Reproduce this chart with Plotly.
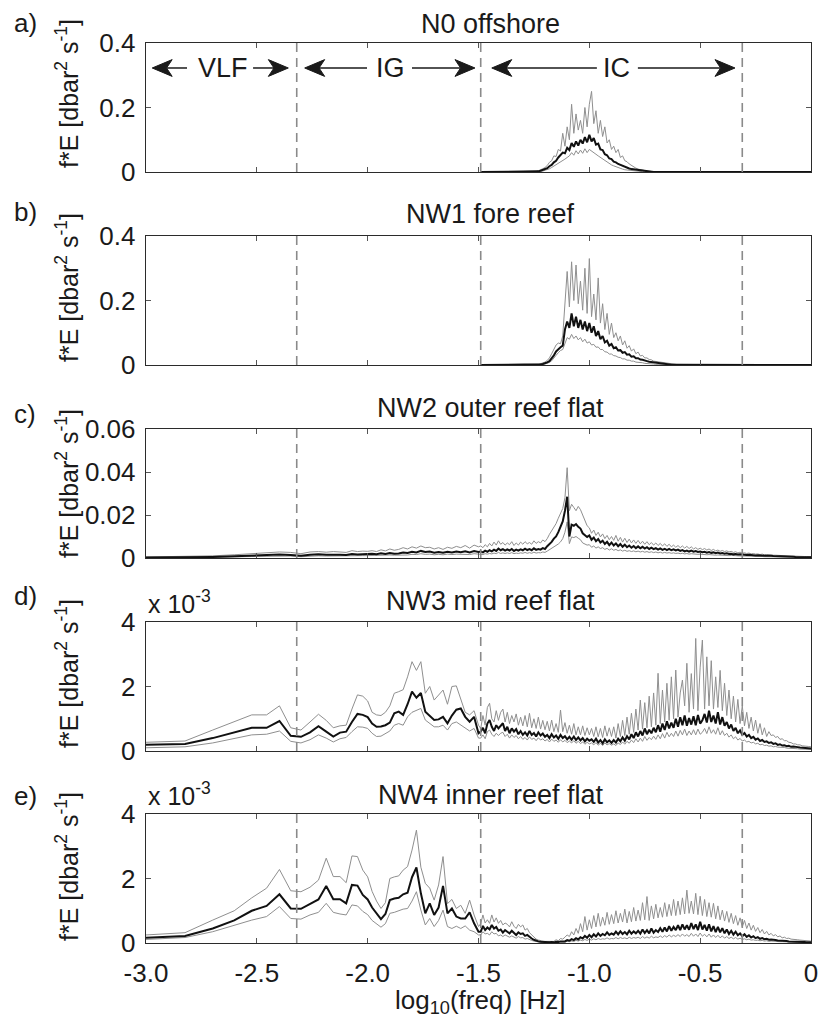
import plotly.graph_objects as go

# ---------------------------------------------------------------- data
# log10(freq) bins
X_LOW = [-3.0, -2.824, -2.699, -2.602, -2.523, -2.456, -2.398, -2.347, -2.301, -2.26,
         -2.222, -2.187, -2.155, -2.125, -2.097, -2.071, -2.046, -2.022, -2.0]
X_MID = [-1.98, -1.96, -1.94, -1.92, -1.90, -1.88, -1.86, -1.84, -1.82, -1.80,
         -1.78, -1.76, -1.74, -1.72, -1.70, -1.68, -1.66, -1.64, -1.62, -1.60,
         -1.58, -1.56, -1.54, -1.52, -1.50]
X_HIGH = [
    -1.49, -1.48, -1.47, -1.46, -1.45, -1.44, -1.43, -1.42, -1.41, -1.40,
    -1.39, -1.38, -1.37, -1.36, -1.35, -1.34, -1.33, -1.32, -1.31, -1.30,
    -1.29, -1.28, -1.27, -1.26, -1.25, -1.24, -1.23, -1.22, -1.21, -1.20,
    -1.19, -1.18, -1.17, -1.16, -1.15, -1.14, -1.13, -1.12, -1.11, -1.10,
    -1.09, -1.08, -1.07, -1.06, -1.05, -1.04, -1.03, -1.02, -1.01, -1.00,
    -0.99, -0.98, -0.97, -0.96, -0.95, -0.94, -0.93, -0.92, -0.91, -0.90,
    -0.89, -0.88, -0.87, -0.86, -0.85, -0.84, -0.83, -0.82, -0.81, -0.80,
    -0.79, -0.78, -0.77, -0.76, -0.75, -0.74, -0.73, -0.72, -0.71, -0.70,
    -0.69, -0.68, -0.67, -0.66, -0.65, -0.64, -0.63, -0.62, -0.61, -0.60,
    -0.59, -0.58, -0.57, -0.56, -0.55, -0.54, -0.53, -0.52, -0.51, -0.50,
    -0.49, -0.48, -0.47, -0.46, -0.45, -0.44, -0.43, -0.42, -0.41, -0.40,
    -0.39, -0.38, -0.37, -0.36, -0.35, -0.34, -0.33, -0.32, -0.31, -0.30,
    -0.29, -0.28, -0.27, -0.26, -0.25, -0.24, -0.23, -0.22, -0.21, -0.20,
    -0.19, -0.18, -0.17, -0.16, -0.15, -0.14, -0.13, -0.12, -0.11, -0.10,
    -0.09, -0.08, -0.07, -0.06, -0.05, -0.04, -0.03, -0.02, -0.01, 0.00]

# ---- a) N0 offshore  (dbar^2 s^-1) on X_HIGH
A_MEAN = [
    0, 0, 0, 0, 0, 0, 0, 0, 0, 0,
    0, 0, 0, 0, 0, 0, 0, 0, 0, 0,
    0, 0, 0, 0, 0, 0.001, 0.002, 0.004, 0.006, 0.008,
    0.012, 0.018, 0.022, 0.030, 0.035, 0.045, 0.052, 0.060, 0.058, 0.075,
    0.068, 0.090, 0.078, 0.095, 0.082, 0.100, 0.088, 0.108, 0.092, 0.115,
    0.095, 0.105, 0.085, 0.088, 0.070, 0.068, 0.055, 0.052, 0.042, 0.040,
    0.032, 0.030, 0.025, 0.022, 0.018, 0.016, 0.013, 0.011, 0.009, 0.008,
    0.006, 0.005, 0.004, 0.003, 0.002, 0.002, 0.001, 0.001, 0, 0,
    0, 0, 0, 0, 0, 0, 0, 0, 0, 0,
    0, 0, 0, 0, 0, 0, 0, 0, 0, 0,
    0, 0, 0, 0, 0, 0, 0, 0, 0, 0,
    0, 0, 0, 0, 0, 0, 0, 0, 0, 0,
    0, 0, 0, 0, 0, 0, 0, 0, 0, 0,
    0, 0, 0, 0, 0, 0, 0, 0, 0, 0,
    0, 0, 0, 0, 0, 0, 0, 0, 0, 0]
A_UP = [
    0, 0, 0, 0, 0, 0, 0, 0, 0, 0,
    0, 0, 0, 0, 0, 0, 0, 0, 0, 0,
    0, 0, 0, 0, 0, 0.002, 0.004, 0.006, 0.010, 0.014,
    0.020, 0.030, 0.035, 0.050, 0.048, 0.070, 0.065, 0.120, 0.080, 0.140,
    0.100, 0.210, 0.120, 0.180, 0.130, 0.160, 0.120, 0.200, 0.140, 0.210,
    0.250, 0.150, 0.190, 0.120, 0.160, 0.110, 0.140, 0.090, 0.100, 0.070,
    0.080, 0.060, 0.070, 0.045, 0.050, 0.035, 0.032, 0.025, 0.020, 0.016,
    0.012, 0.009, 0.007, 0.005, 0.004, 0.003, 0.002, 0.001, 0.001, 0,
    0, 0, 0, 0, 0, 0, 0, 0, 0, 0,
    0, 0, 0, 0, 0, 0, 0, 0, 0, 0,
    0, 0, 0, 0, 0, 0, 0, 0, 0, 0,
    0, 0, 0, 0, 0, 0, 0, 0, 0, 0,
    0, 0, 0, 0, 0, 0, 0, 0, 0, 0,
    0, 0, 0, 0, 0, 0, 0, 0, 0, 0,
    0, 0, 0, 0, 0, 0, 0, 0, 0, 0]
A_LO = [
    0, 0, 0, 0, 0, 0, 0, 0, 0, 0,
    0, 0, 0, 0, 0, 0, 0, 0, 0, 0,
    0, 0, 0, 0, 0, 0, 0.001, 0.002, 0.003, 0.005,
    0.007, 0.010, 0.014, 0.018, 0.022, 0.026, 0.032, 0.036, 0.040, 0.045,
    0.050, 0.060, 0.052, 0.066, 0.056, 0.068, 0.058, 0.072, 0.060, 0.070,
    0.064, 0.060, 0.055, 0.050, 0.045, 0.040, 0.035, 0.030, 0.026, 0.022,
    0.019, 0.016, 0.013, 0.011, 0.009, 0.007, 0.006, 0.005, 0.004, 0.003,
    0.003, 0.002, 0.002, 0.001, 0.001, 0.001, 0, 0, 0, 0,
    0, 0, 0, 0, 0, 0, 0, 0, 0, 0,
    0, 0, 0, 0, 0, 0, 0, 0, 0, 0,
    0, 0, 0, 0, 0, 0, 0, 0, 0, 0,
    0, 0, 0, 0, 0, 0, 0, 0, 0, 0,
    0, 0, 0, 0, 0, 0, 0, 0, 0, 0,
    0, 0, 0, 0, 0, 0, 0, 0, 0, 0,
    0, 0, 0, 0, 0, 0, 0, 0, 0, 0]

# ---- b) NW1 fore reef (dbar^2 s^-1) on X_HIGH
B_MEAN = [
    0, 0, 0, 0, 0, 0, 0, 0, 0, 0,
    0, 0, 0, 0, 0, 0, 0, 0, 0, 0,
    0, 0, 0, 0, 0, 0, 0.001, 0.002, 0.003, 0.005,
    0.008, 0.012, 0.020, 0.030, 0.042, 0.050, 0.055, 0.060, 0.110, 0.135,
    0.115, 0.160, 0.120, 0.150, 0.115, 0.140, 0.110, 0.135, 0.105, 0.130,
    0.100, 0.120, 0.090, 0.105, 0.080, 0.090, 0.070, 0.075, 0.060, 0.065,
    0.052, 0.055, 0.045, 0.046, 0.038, 0.040, 0.032, 0.033, 0.026, 0.027,
    0.021, 0.021, 0.017, 0.016, 0.013, 0.012, 0.010, 0.009, 0.007, 0.006,
    0.005, 0.004, 0.003, 0.003, 0.002, 0.002, 0.001, 0.001, 0.001, 0,
    0, 0, 0, 0, 0, 0, 0, 0, 0, 0,
    0, 0, 0, 0, 0, 0, 0, 0, 0, 0,
    0, 0, 0, 0, 0, 0, 0, 0, 0, 0,
    0, 0, 0, 0, 0, 0, 0, 0, 0, 0,
    0, 0, 0, 0, 0, 0, 0, 0, 0, 0,
    0, 0, 0, 0, 0, 0, 0, 0, 0, 0]
B_UP = [
    0, 0, 0, 0, 0, 0, 0, 0, 0, 0,
    0, 0, 0, 0, 0, 0, 0, 0, 0, 0,
    0, 0, 0, 0, 0, 0, 0.002, 0.004, 0.006, 0.009,
    0.014, 0.022, 0.035, 0.048, 0.062, 0.068, 0.066, 0.090, 0.200, 0.290,
    0.180, 0.320, 0.200, 0.310, 0.190, 0.260, 0.170, 0.300, 0.160, 0.330,
    0.150, 0.220, 0.140, 0.270, 0.130, 0.190, 0.110, 0.160, 0.095, 0.130,
    0.085, 0.100, 0.075, 0.090, 0.062, 0.075, 0.052, 0.060, 0.043, 0.050,
    0.035, 0.040, 0.028, 0.030, 0.022, 0.022, 0.017, 0.016, 0.012, 0.011,
    0.009, 0.007, 0.006, 0.005, 0.004, 0.003, 0.002, 0.002, 0.001, 0.001,
    0, 0, 0, 0, 0, 0, 0, 0, 0, 0,
    0, 0, 0, 0, 0, 0, 0, 0, 0, 0,
    0, 0, 0, 0, 0, 0, 0, 0, 0, 0,
    0, 0, 0, 0, 0, 0, 0, 0, 0, 0,
    0, 0, 0, 0, 0, 0, 0, 0, 0, 0,
    0, 0, 0, 0, 0, 0, 0, 0, 0, 0]
B_LO = [
    0, 0, 0, 0, 0, 0, 0, 0, 0, 0,
    0, 0, 0, 0, 0, 0, 0, 0, 0, 0,
    0, 0, 0, 0, 0, 0, 0, 0.001, 0.002, 0.003,
    0.005, 0.008, 0.013, 0.020, 0.030, 0.038, 0.045, 0.048, 0.070, 0.085,
    0.080, 0.095, 0.082, 0.090, 0.078, 0.085, 0.072, 0.080, 0.068, 0.072,
    0.062, 0.064, 0.055, 0.056, 0.048, 0.048, 0.041, 0.040, 0.034, 0.034,
    0.029, 0.028, 0.024, 0.023, 0.019, 0.019, 0.015, 0.015, 0.012, 0.012,
    0.009, 0.009, 0.007, 0.007, 0.005, 0.005, 0.004, 0.003, 0.003, 0.002,
    0.002, 0.001, 0.001, 0.001, 0.001, 0, 0, 0, 0, 0,
    0, 0, 0, 0, 0, 0, 0, 0, 0, 0,
    0, 0, 0, 0, 0, 0, 0, 0, 0, 0,
    0, 0, 0, 0, 0, 0, 0, 0, 0, 0,
    0, 0, 0, 0, 0, 0, 0, 0, 0, 0,
    0, 0, 0, 0, 0, 0, 0, 0, 0, 0,
    0, 0, 0, 0, 0, 0, 0, 0, 0, 0]

# ---- c) NW2 outer reef flat (units of 1e-3 dbar^2 s^-1)
C_MEAN_LOW = [0.2, 0.3, 0.5, 0.8, 1.2, 1.5, 1.6, 1.4, 1.0, 1.5, 1.7, 1.5, 1.6, 1.5, 1.4, 1.9, 1.6, 1.8, 1.7]
C_MEAN_MID = [2.0, 1.8, 2.2, 1.9, 2.3, 2.0, 2.1, 2.6, 2.3, 2.9, 2.6, 3.3, 2.8, 3.0, 2.5,
              2.8, 2.4, 2.9, 2.6, 3.0, 2.7, 3.1, 2.6, 3.2, 2.8]
C_MEAN_HIGH = [
    3.0, 2.6, 3.4, 2.9, 3.6, 3.1, 3.9, 3.3, 4.4, 3.6,
    4.1, 3.4, 4.0, 3.5, 4.2, 3.3, 3.9, 3.4, 4.0, 3.6,
    4.3, 3.7, 4.1, 3.6, 4.5, 3.8, 4.2, 3.9, 4.6, 4.2,
    5.5, 6.5, 7.5, 9.0, 10.0, 12.0, 14.5, 17.0, 22.0, 28.5,
    10.0, 15.5, 15.0, 15.8, 14.5, 13.7, 11.5, 10.5, 9.8, 10.5,
    8.5, 9.5, 7.8, 8.8, 7.2, 8.0, 6.5, 7.5, 6.0, 7.2,
    5.8, 6.8, 5.5, 6.5, 5.2, 6.2, 5.0, 5.8, 4.8, 5.6,
    4.6, 5.4, 4.5, 5.2, 4.4, 5.0, 4.2, 4.8, 4.1, 4.6,
    3.9, 4.5, 3.8, 4.3, 3.7, 4.2, 3.6, 4.0, 3.5, 3.9,
    3.3, 3.7, 3.1, 3.5, 3.0, 3.4, 2.9, 3.2, 2.8, 3.0,
    2.7, 2.9, 2.5, 2.8, 2.4, 2.6, 2.2, 2.5, 2.1, 2.3,
    2.0, 2.2, 1.9, 2.0, 1.7, 1.9, 1.6, 1.7, 1.5, 1.6,
    1.4, 1.5, 1.3, 1.4, 1.2, 1.3, 1.1, 1.2, 1.0, 1.1,
    0.9, 1.0, 0.9, 0.9, 0.8, 0.8, 0.7, 0.7, 0.7, 0.6,
    0.6, 0.6, 0.5, 0.5, 0.5, 0.5, 0.4, 0.4, 0.4, 0.4]
C_UP_LOW = [0.5, 0.7, 1.0, 1.5, 2.0, 2.4, 2.8, 2.6, 2.0, 2.8, 3.0, 2.7, 3.0, 2.8, 2.6, 3.4, 3.0, 3.2, 3.1]
C_UP_MID = [3.4, 3.0, 3.8, 3.3, 4.2, 3.6, 4.0, 4.8, 4.2, 5.2, 4.6, 5.6, 4.8, 5.0, 4.2,
            4.8, 4.0, 5.0, 4.5, 5.4, 4.8, 5.8, 4.6, 6.0, 5.2]
C_UP_HIGH = [
    5.6, 4.8, 6.2, 5.2, 6.8, 5.6, 7.4, 6.0, 8.0, 6.4,
    7.2, 6.0, 7.0, 6.2, 7.6, 5.8, 7.0, 6.0, 7.4, 6.4,
    7.6, 6.6, 7.2, 6.4, 8.0, 6.8, 7.6, 7.0, 8.4, 7.6,
    9.0, 11.0, 12.5, 14.5, 16.0, 18.5, 21.0, 23.0, 28.0, 42.0,
    22.0, 25.0, 23.5, 22.0, 24.0, 22.5, 20.0, 17.0, 15.0, 14.0,
    11.5, 13.0, 10.5, 12.0, 9.8, 11.2, 9.0, 10.5, 8.5, 10.0,
    8.2, 10.5, 7.8, 9.6, 7.4, 9.2, 7.2, 8.8, 7.0, 8.4,
    6.8, 8.2, 6.6, 7.8, 6.4, 7.6, 6.2, 7.2, 6.0, 7.0,
    5.8, 6.8, 5.6, 6.6, 5.4, 6.4, 5.2, 6.0, 5.0, 5.8,
    4.8, 5.6, 4.6, 5.4, 4.4, 5.2, 4.2, 4.8, 4.0, 4.6,
    3.9, 4.4, 3.7, 4.2, 3.5, 4.0, 3.3, 3.7, 3.1, 3.5,
    3.0, 3.3, 2.8, 3.1, 2.6, 2.9, 2.4, 2.7, 2.2, 2.4,
    2.1, 2.3, 1.9, 2.1, 1.8, 1.9, 1.6, 1.8, 1.5, 1.6,
    1.4, 1.5, 1.3, 1.3, 1.2, 1.2, 1.1, 1.1, 1.0, 1.0,
    0.9, 0.9, 0.8, 0.8, 0.8, 0.7, 0.7, 0.7, 0.6, 0.6]
C_LO_LOW = [0.1, 0.15, 0.3, 0.5, 0.7, 0.9, 1.0, 0.9, 0.6, 0.9, 1.0, 0.9, 1.0, 0.9, 0.9, 1.2, 1.0, 1.1, 1.1]
C_LO_MID = [1.2, 1.1, 1.3, 1.2, 1.4, 1.3, 1.3, 1.6, 1.4, 1.7, 1.6, 2.0, 1.7, 1.8, 1.5,
            1.7, 1.5, 1.8, 1.6, 1.8, 1.7, 1.9, 1.6, 2.0, 1.7]
C_LO_HIGH = [
    1.8, 1.6, 2.0, 1.8, 2.1, 1.9, 2.3, 2.0, 2.6, 2.1,
    2.4, 2.1, 2.4, 2.1, 2.5, 2.0, 2.3, 2.1, 2.4, 2.2,
    2.6, 2.2, 2.5, 2.2, 2.7, 2.3, 2.5, 2.4, 2.8, 2.6,
    3.2, 3.8, 4.4, 5.0, 5.6, 6.5, 7.5, 9.0, 12.0, 16.8,
    6.7, 9.8, 9.5, 10.0, 9.2, 8.5, 7.0, 6.5, 6.0, 6.2,
    5.0, 5.6, 4.6, 5.2, 4.4, 4.8, 4.0, 4.5, 3.7, 4.3,
    3.6, 4.0, 3.4, 3.8, 3.2, 3.6, 3.1, 3.4, 3.0, 3.3,
    2.9, 3.2, 2.8, 3.1, 2.7, 3.0, 2.6, 2.9, 2.5, 2.8,
    2.4, 2.7, 2.3, 2.6, 2.3, 2.5, 2.2, 2.4, 2.1, 2.3,
    2.0, 2.2, 1.9, 2.1, 1.8, 2.0, 1.8, 1.9, 1.7, 1.8,
    1.6, 1.7, 1.5, 1.6, 1.4, 1.5, 1.3, 1.4, 1.3, 1.3,
    1.2, 1.3, 1.1, 1.2, 1.0, 1.1, 1.0, 1.0, 0.9, 0.9,
    0.8, 0.9, 0.8, 0.8, 0.7, 0.7, 0.7, 0.7, 0.6, 0.6,
    0.6, 0.6, 0.5, 0.5, 0.5, 0.5, 0.4, 0.4, 0.4, 0.4,
    0.4, 0.4, 0.3, 0.3, 0.3, 0.3, 0.3, 0.3, 0.3, 0.3]

# ---- d) NW3 mid reef flat (units of 1e-3 dbar^2 s^-1)
D_MEAN_LOW = [0.19, 0.22, 0.40, 0.57, 0.72, 0.72, 0.93, 0.47, 0.44, 0.58, 0.77, 0.60, 0.45, 0.57, 0.60,
              0.90, 1.15, 1.12, 1.05]
D_MEAN_MID = [0.85, 0.75, 0.76, 0.80, 0.88, 1.17, 1.22, 1.12, 1.45, 1.84, 1.65, 1.80, 1.22, 1.10, 0.96,
              0.98, 1.06, 0.86, 1.10, 1.28, 1.32, 1.06, 0.91, 1.06, 0.55]
D_MEAN_HIGH = [
    0.60, 0.72, 0.55, 0.85, 0.96, 0.75, 0.62, 0.80, 0.70, 0.78,
    0.86, 0.62, 0.75, 0.55, 0.70, 0.60, 0.68, 0.52, 0.62, 0.50,
    0.58, 0.48, 0.62, 0.50, 0.56, 0.45, 0.58, 0.48, 0.54, 0.44,
    0.50, 0.40, 0.52, 0.42, 0.48, 0.38, 0.50, 0.40, 0.46, 0.36,
    0.44, 0.35, 0.45, 0.34, 0.42, 0.33, 0.40, 0.30, 0.38, 0.32,
    0.36, 0.28, 0.38, 0.26, 0.34, 0.24, 0.36, 0.27, 0.33, 0.25,
    0.34, 0.26, 0.38, 0.30, 0.42, 0.32, 0.46, 0.36, 0.52, 0.40,
    0.58, 0.45, 0.62, 0.48, 0.70, 0.52, 0.66, 0.55, 0.72, 0.58,
    0.80, 0.60, 0.85, 0.65, 0.92, 0.70, 0.88, 0.72, 1.00, 0.75,
    1.05, 0.80, 1.10, 0.78, 1.02, 0.82, 1.08, 0.80, 1.12, 0.85,
    0.95, 1.15, 0.88, 1.25, 0.90, 1.10, 0.85, 1.20, 0.82, 1.05,
    0.78, 0.90, 0.70, 0.82, 0.62, 0.72, 0.55, 0.64, 0.50, 0.56,
    0.45, 0.50, 0.40, 0.44, 0.35, 0.39, 0.31, 0.34, 0.28, 0.30,
    0.25, 0.27, 0.22, 0.24, 0.19, 0.21, 0.17, 0.18, 0.15, 0.16,
    0.13, 0.14, 0.12, 0.12, 0.11, 0.10, 0.10, 0.09, 0.09, 0.08]
D_UP_LOW = [0.27, 0.31, 0.65, 0.90, 1.12, 1.12, 1.40, 0.72, 0.65, 0.90, 1.14, 0.95, 0.72, 0.78, 0.80,
            1.30, 1.74, 1.70, 1.55]
D_UP_MID = [1.20, 1.12, 1.10, 1.20, 1.40, 1.79, 1.84, 1.90, 2.30, 2.77, 2.50, 2.77, 1.79, 2.00, 1.58,
            1.75, 1.89, 1.45, 2.00, 2.02, 1.60, 1.20, 1.12, 1.25, 0.80]
D_UP_HIGH = [
    0.70, 1.10, 0.80, 1.35, 1.48, 1.00, 0.90, 1.25, 0.95, 1.20,
    1.30, 0.90, 1.20, 0.85, 1.10, 0.90, 1.15, 0.80, 1.05, 0.78,
    1.10, 0.75, 1.17, 0.72, 1.00, 0.70, 1.05, 0.68, 0.95, 0.66,
    0.92, 0.62, 0.96, 0.60, 0.85, 0.58, 1.27, 0.60, 0.88, 0.55,
    0.80, 0.52, 0.85, 0.50, 0.75, 0.50, 0.78, 0.48, 0.72, 0.50,
    0.70, 0.45, 0.75, 0.44, 0.70, 0.42, 0.78, 0.46, 0.72, 0.45,
    0.75, 0.40, 0.85, 0.45, 0.95, 0.48, 1.05, 0.52, 1.17, 0.58,
    1.30, 0.65, 1.58, 0.68, 1.50, 0.72, 1.70, 0.75, 1.80, 0.80,
    2.41, 0.85, 1.89, 0.90, 2.10, 0.95, 2.30, 1.00, 2.51, 1.05,
    1.80, 2.20, 1.40, 2.72, 1.20, 2.40, 1.30, 3.49, 1.25, 2.60,
    3.44, 1.30, 2.92, 1.40, 2.80, 1.30, 2.30, 1.35, 2.50, 1.25,
    2.10, 1.10, 1.89, 1.00, 1.70, 0.90, 1.60, 0.85, 1.40, 0.78,
    1.20, 0.70, 1.05, 0.62, 0.96, 0.55, 0.85, 0.50, 0.72, 0.45,
    0.60, 0.48, 0.50, 0.42, 0.45, 0.36, 0.38, 0.32, 0.32, 0.27,
    0.26, 0.22, 0.22, 0.19, 0.19, 0.16, 0.16, 0.14, 0.14, 0.13]
D_LO_LOW = [0.10, 0.13, 0.25, 0.38, 0.50, 0.52, 0.62, 0.30, 0.25, 0.35, 0.50, 0.40, 0.28, 0.38, 0.42,
            0.60, 0.75, 0.74, 0.70]
D_LO_MID = [0.55, 0.45, 0.46, 0.55, 0.62, 0.80, 0.85, 0.80, 1.06, 1.20, 1.27, 1.32, 0.96, 0.85, 0.75,
            0.75, 0.80, 0.65, 0.85, 0.90, 0.80, 0.70, 0.62, 0.70, 0.40]
D_LO_HIGH = [
    0.40, 0.50, 0.38, 0.60, 0.65, 0.52, 0.45, 0.55, 0.48, 0.55,
    0.58, 0.45, 0.52, 0.40, 0.50, 0.42, 0.48, 0.38, 0.45, 0.36,
    0.42, 0.34, 0.44, 0.36, 0.40, 0.32, 0.41, 0.34, 0.38, 0.31,
    0.36, 0.28, 0.37, 0.30, 0.34, 0.27, 0.35, 0.28, 0.33, 0.26,
    0.31, 0.25, 0.32, 0.24, 0.30, 0.23, 0.28, 0.21, 0.27, 0.22,
    0.25, 0.19, 0.26, 0.18, 0.24, 0.17, 0.25, 0.19, 0.23, 0.18,
    0.22, 0.17, 0.25, 0.20, 0.28, 0.21, 0.30, 0.24, 0.34, 0.26,
    0.38, 0.28, 0.40, 0.30, 0.45, 0.33, 0.42, 0.35, 0.46, 0.36,
    0.50, 0.38, 0.54, 0.40, 0.58, 0.44, 0.55, 0.45, 0.62, 0.46,
    0.64, 0.50, 0.68, 0.48, 0.62, 0.50, 0.66, 0.50, 0.68, 0.52,
    0.58, 0.70, 0.54, 0.75, 0.55, 0.66, 0.52, 0.72, 0.50, 0.63,
    0.48, 0.55, 0.43, 0.50, 0.38, 0.44, 0.34, 0.39, 0.31, 0.34,
    0.28, 0.30, 0.25, 0.27, 0.22, 0.24, 0.19, 0.21, 0.17, 0.18,
    0.15, 0.16, 0.13, 0.14, 0.12, 0.12, 0.10, 0.11, 0.09, 0.09,
    0.08, 0.08, 0.07, 0.07, 0.06, 0.06, 0.06, 0.05, 0.05, 0.05]

# ---- e) NW4 inner reef flat (units of 1e-3 dbar^2 s^-1)
E_MEAN_LOW = [0.16, 0.22, 0.45, 0.70, 1.00, 1.15, 1.51, 1.07, 1.06, 1.21, 1.35, 1.77, 1.36, 1.36, 1.23,
              1.80, 1.78, 1.49, 1.35]
E_MEAN_MID = [1.10, 0.90, 0.74, 0.90, 1.33, 1.38, 1.40, 1.51, 1.56, 2.04, 2.34, 1.54, 0.92, 1.23, 0.87,
              1.10, 1.77, 0.92, 1.07, 0.82, 0.76, 0.76, 0.95, 0.61, 0.35]
E_MEAN_HIGH = [
    0.35, 0.53, 0.40, 0.48, 0.42, 0.56, 0.45, 0.50, 0.38, 0.42,
    0.32, 0.40, 0.35, 0.30, 0.38, 0.30, 0.25, 0.33, 0.28, 0.30,
    0.22, 0.25, 0.18, 0.14, 0.10, 0.07, 0.05, 0.04, 0.03, 0.03,
    0.02, 0.02, 0.03, 0.02, 0.04, 0.03, 0.05, 0.06, 0.05, 0.09,
    0.07, 0.12, 0.09, 0.15, 0.11, 0.18, 0.14, 0.22, 0.16, 0.25,
    0.18, 0.27, 0.20, 0.30, 0.22, 0.28, 0.24, 0.33, 0.25, 0.30,
    0.26, 0.35, 0.27, 0.36, 0.28, 0.34, 0.27, 0.38, 0.29, 0.36,
    0.30, 0.38, 0.29, 0.42, 0.31, 0.40, 0.30, 0.45, 0.32, 0.40,
    0.34, 0.46, 0.35, 0.48, 0.36, 0.52, 0.38, 0.50, 0.40, 0.55,
    0.40, 0.58, 0.42, 0.55, 0.41, 0.62, 0.43, 0.58, 0.40, 0.66,
    0.42, 0.56, 0.38, 0.58, 0.36, 0.52, 0.34, 0.50, 0.33, 0.46,
    0.30, 0.42, 0.28, 0.38, 0.26, 0.35, 0.24, 0.30, 0.21, 0.27,
    0.19, 0.24, 0.17, 0.21, 0.15, 0.18, 0.13, 0.15, 0.12, 0.13,
    0.10, 0.11, 0.09, 0.09, 0.08, 0.08, 0.07, 0.06, 0.06, 0.05,
    0.05, 0.04, 0.04, 0.04, 0.03, 0.03, 0.03, 0.02, 0.02, 0.02]
E_UP_LOW = [0.25, 0.32, 0.71, 1.00, 1.40, 1.70, 2.28, 1.62, 1.59, 1.73, 1.95, 2.63, 2.06, 2.06, 1.87,
            2.70, 2.68, 2.26, 2.05]
E_UP_MID = [1.60, 1.30, 1.07, 1.25, 2.00, 2.05, 2.08, 2.26, 2.37, 2.88, 3.50, 2.35, 1.85, 1.70, 1.33,
            1.80, 2.68, 1.22, 1.35, 1.07, 1.17, 0.92, 1.33, 0.87, 0.51]
E_UP_HIGH = [
    0.60, 0.87, 0.62, 0.72, 0.61, 0.87, 0.65, 0.78, 0.61, 0.70,
    0.56, 0.62, 0.58, 0.50, 0.66, 0.52, 0.45, 0.58, 0.50, 0.56,
    0.40, 0.45, 0.32, 0.25, 0.18, 0.12, 0.09, 0.07, 0.06, 0.05,
    0.05, 0.05, 0.07, 0.05, 0.10, 0.07, 0.14, 0.12, 0.18, 0.25,
    0.20, 0.35, 0.25, 0.45, 0.30, 0.60, 0.35, 0.82, 0.40, 0.72,
    0.45, 0.85, 0.50, 0.92, 0.52, 0.80, 0.55, 0.95, 0.58, 0.88,
    0.60, 1.00, 0.62, 0.92, 0.65, 1.05, 0.62, 0.98, 0.66, 1.10,
    0.68, 1.02, 0.70, 1.25, 0.72, 1.44, 0.70, 1.15, 0.75, 1.20,
    0.78, 1.10, 0.80, 1.25, 0.82, 1.20, 0.85, 1.35, 0.85, 1.30,
    0.88, 1.40, 0.90, 1.64, 0.92, 1.30, 0.90, 1.54, 0.88, 1.45,
    0.85, 1.35, 0.82, 1.25, 0.80, 1.23, 0.75, 1.15, 0.72, 1.02,
    0.68, 0.98, 0.64, 0.92, 0.60, 0.85, 0.55, 0.78, 0.50, 0.70,
    0.45, 0.62, 0.40, 0.55, 0.36, 0.48, 0.32, 0.42, 0.28, 0.36,
    0.25, 0.30, 0.22, 0.26, 0.19, 0.22, 0.16, 0.18, 0.14, 0.15,
    0.12, 0.12, 0.10, 0.10, 0.09, 0.08, 0.07, 0.07, 0.06, 0.06]
E_LO_LOW = [0.11, 0.17, 0.35, 0.55, 0.71, 0.82, 1.13, 0.76, 0.74, 0.87, 0.95, 1.23, 0.95, 0.90, 0.87,
            1.18, 1.15, 0.98, 0.88]
E_LO_MID = [0.70, 0.60, 0.49, 0.60, 0.92, 0.95, 1.00, 1.05, 1.07, 1.30, 1.59, 1.02, 0.56, 0.76, 0.51,
            0.70, 1.02, 0.51, 0.45, 0.52, 0.45, 0.53, 0.40, 0.35, 0.25]
E_LO_HIGH = [
    0.25, 0.35, 0.28, 0.30, 0.25, 0.35, 0.28, 0.30, 0.22, 0.25,
    0.20, 0.25, 0.22, 0.18, 0.22, 0.18, 0.15, 0.20, 0.16, 0.17,
    0.12, 0.14, 0.10, 0.08, 0.06, 0.04, 0.03, 0.02, 0.02, 0.02,
    0.01, 0.01, 0.02, 0.01, 0.02, 0.02, 0.03, 0.03, 0.03, 0.05,
    0.04, 0.06, 0.05, 0.08, 0.06, 0.09, 0.07, 0.11, 0.08, 0.12,
    0.09, 0.13, 0.10, 0.14, 0.11, 0.13, 0.12, 0.16, 0.12, 0.14,
    0.13, 0.17, 0.13, 0.17, 0.14, 0.16, 0.13, 0.18, 0.14, 0.17,
    0.15, 0.18, 0.14, 0.20, 0.15, 0.19, 0.15, 0.21, 0.16, 0.19,
    0.17, 0.22, 0.17, 0.23, 0.18, 0.25, 0.19, 0.24, 0.20, 0.26,
    0.20, 0.28, 0.21, 0.26, 0.20, 0.30, 0.21, 0.28, 0.20, 0.31,
    0.21, 0.27, 0.19, 0.28, 0.18, 0.25, 0.17, 0.24, 0.16, 0.22,
    0.15, 0.20, 0.14, 0.18, 0.13, 0.17, 0.12, 0.15, 0.11, 0.13,
    0.10, 0.12, 0.09, 0.10, 0.08, 0.09, 0.07, 0.08, 0.06, 0.07,
    0.05, 0.06, 0.05, 0.05, 0.04, 0.04, 0.04, 0.03, 0.03, 0.03,
    0.03, 0.02, 0.02, 0.02, 0.02, 0.02, 0.01, 0.01, 0.01, 0.01]

TITLES = ["N0 offshore", "NW1 fore reef", "NW2 outer reef flat", "NW3 mid reef flat", "NW4 inner reef flat"]
LABELS = ["a)", "b)", "c)", "d)", "e)"]
BOUNDARIES = [-2.32, -1.49, -0.31]          # VLF | IG | IC | ...
BAND_NAMES = ["VLF", "IG", "IC"]
X_TICKS = [-3.0, -2.5, -2.0, -1.5, -1.0, -0.5, 0.0]
X_TICKTEXT = ["-3.0", "-2.5", "-2.0", "-1.5", "-1.0", "-0.5", "0"]

# ---------------------------------------------------------------- assemble
X_ALL = X_LOW + X_MID + X_HIGH
MILLI = 1e-3
panels = [
    dict(x=X_HIGH, mean=A_MEAN, up=A_UP, lo=A_LO, k=1.0, yr=[0, 0.4],
         yt=[0, 0.2, 0.4], ytt=["0", "0.2", "0.4"], exp=False),
    dict(x=X_HIGH, mean=B_MEAN, up=B_UP, lo=B_LO, k=1.0, yr=[0, 0.4],
         yt=[0, 0.2, 0.4], ytt=["0", "0.2", "0.4"], exp=False),
    dict(x=X_ALL, mean=C_MEAN_LOW + C_MEAN_MID + C_MEAN_HIGH, up=C_UP_LOW + C_UP_MID + C_UP_HIGH,
         lo=C_LO_LOW + C_LO_MID + C_LO_HIGH, k=MILLI, yr=[0, 0.06],
         yt=[0, 0.02, 0.04, 0.06], ytt=["0", "0.02", "0.04", "0.06"], exp=False),
    dict(x=X_ALL, mean=D_MEAN_LOW + D_MEAN_MID + D_MEAN_HIGH, up=D_UP_LOW + D_UP_MID + D_UP_HIGH,
         lo=D_LO_LOW + D_LO_MID + D_LO_HIGH, k=MILLI, yr=[0, 0.004],
         yt=[0, 0.002, 0.004], ytt=["0", "2", "4"], exp=True),
    dict(x=X_ALL, mean=E_MEAN_LOW + E_MEAN_MID + E_MEAN_HIGH, up=E_UP_LOW + E_UP_MID + E_UP_HIGH,
         lo=E_LO_LOW + E_LO_MID + E_LO_HIGH, k=MILLI, yr=[0, 0.004],
         yt=[0, 0.002, 0.004], ytt=["0", "2", "4"], exp=True),
]
for p in panels:
    assert len(p["x"]) == len(p["mean"]) == len(p["up"]) == len(p["lo"]), len(p["mean"])

# ---------------------------------------------------------------- geometry (page px)
W, H = 818, 1025          # body margin is removed below, so figure == window
PL, PR = 146, 811
TOPS = [43, 236, 429, 622, 814]
PH = 129
TITLE_Y = [24, 214, 408, 601, 795]
LABEL_Y = [23, 212, 414, 596, 796]
YTITLE_Y = [94, 288, 484, 674, 867]
FONT = "Liberation Sans, Arial, Helvetica, sans-serif"
TXT = "#1a1a1a"
AX = "#2b2b2b"
GRAY = "#8f8f8f"


def px(xp):
    return xp / W


def py(yp):
    return 1 - yp / H


fig = go.Figure()
layout = dict(width=W, height=H, margin=dict(l=0, r=0, t=0, b=0, pad=0, autoexpand=False),
              autosize=False, paper_bgcolor="white", plot_bgcolor="white", showlegend=False,
              hovermode=False, font=dict(family=FONT, size=26, color=TXT))
annotations = []
shapes = []

for i, p in enumerate(panels):
    n = i + 1
    xa = "xaxis" if n == 1 else f"xaxis{n}"
    ya = "yaxis" if n == 1 else f"yaxis{n}"
    xr = "x" if n == 1 else f"x{n}"
    yr = "y" if n == 1 else f"y{n}"
    k = p["k"]
    for key, col, wd in (("up", GRAY, 1), ("lo", GRAY, 1), ("mean", "#111111", 2)):
        fig.add_trace(go.Scatter(x=p["x"], y=[v * k for v in p[key]], mode="lines",
                                 line=dict(color=col, width=wd), xaxis=xr, yaxis=yr,
                                 hoverinfo="skip"))
    top = TOPS[i]
    layout[xa] = dict(domain=[px(PL), px(PR)], anchor=yr, range=[-3, 0],
                      tickvals=X_TICKS, ticktext=X_TICKTEXT, showticklabels=(n == 5),
                      ticks="inside", ticklen=5, tickwidth=1, tickcolor="#555",
                      mirror="ticks", showline=True, linecolor=AX, linewidth=1.3,
                      showgrid=False, zeroline=False, ticklabelstandoff=6, automargin=False,
                      ticklabeloverflow="allow", tickfont=dict(size=26, color=TXT))
    layout[ya] = dict(domain=[py(top + PH), py(top)], anchor=xr, range=p["yr"],
                      tickvals=p["yt"], ticktext=p["ytt"],
                      ticks="inside", ticklen=5, tickwidth=1, tickcolor="#555",
                      mirror="ticks", showline=True, linecolor=AX, linewidth=1.3,
                      showgrid=False, zeroline=False, ticklabelstandoff=4, automargin=False,
                      ticklabeloverflow="allow", tickfont=dict(size=26, color=TXT))
    for bx in BOUNDARIES:
        shapes.append(dict(type="line", xref=xr, yref=f"{yr} domain", x0=bx, x1=bx, y0=0, y1=1,
                           line=dict(color="#8a8a8a", width=1.6, dash="9px,6px"), layer="above"))
    annotations.append(dict(text=TITLES[i], xref="paper", yref="paper", x=px(491), y=py(TITLE_Y[i]),
                            xanchor="center", yanchor="middle", showarrow=False,
                            font=dict(size=27, color=TXT)))
    annotations.append(dict(text=LABELS[i], xref="paper", yref="paper", x=px(12), y=py(LABEL_Y[i]),
                            xanchor="left", yanchor="middle", showarrow=False,
                            font=dict(size=26, color=TXT)))
    annotations.append(dict(text="f*E [dbar<sup>2</sup> s<sup>-1</sup>]", xref="paper", yref="paper",
                            x=px(67), y=py(YTITLE_Y[i]), xanchor="center", yanchor="middle",
                            textangle=-90, showarrow=False, font=dict(size=25, color=TXT)))
    if p["exp"]:
        annotations.append(dict(text="x 10<sup>-3</sup>", xref="paper", yref="paper",
                                x=px(146), y=py(top - 20), xanchor="left", yanchor="middle",
                                showarrow=False, font=dict(size=25, color=TXT)))

# band arrows in panel a (drawn as shapes: shaft line + notched filled head)
ARROW_Y = 0.3225
HEAD_LEN = 0.09      # x units (~20 px)
HEAD_HALF = 0.026    # y units (~8.5 px)
band_text_x = [-2.653, -1.895, -0.876]
arrow_pairs = [(-2.815, -2.972), (-2.517, -2.358),
               (-2.003, -2.284), (-1.800, -1.516),
               (-0.966, -1.440), (-0.781, -0.343)]
for name, tx in zip(BAND_NAMES, band_text_x):
    annotations.append(dict(text=name, xref="x", yref="y", x=tx, y=ARROW_Y, showarrow=False,
                            xanchor="center", yanchor="middle", font=dict(size=27, color=TXT)))
for tail, head in arrow_pairs:
    d = 1 if head > tail else -1
    base = head - d * HEAD_LEN
    notch = head - d * HEAD_LEN * 0.72
    shapes.append(dict(type="line", xref="x", yref="y", x0=tail, x1=notch, y0=ARROW_Y, y1=ARROW_Y,
                       line=dict(color="#1a1a1a", width=1.5)))
    path = (f"M {head},{ARROW_Y} L {base},{ARROW_Y + HEAD_HALF} L {notch},{ARROW_Y} "
            f"L {base},{ARROW_Y - HEAD_HALF} Z")
    shapes.append(dict(type="path", xref="x", yref="y", path=path,
                       fillcolor="#1a1a1a", line=dict(color="#1a1a1a", width=1)))

annotations.append(dict(text="log<sub>10</sub>(freq) [Hz]", xref="paper", yref="paper",
                        x=px(481), y=py(1001), xanchor="center", yanchor="middle",
                        showarrow=False, font=dict(size=26, color=TXT)))

layout["annotations"] = annotations
layout["shapes"] = shapes
fig.update_layout(**layout)
fig.write_html("out.html", config={"displayModeBar": False, "staticPlot": True},
               post_script="document.body.style.margin='0';document.body.style.overflow='hidden';")
